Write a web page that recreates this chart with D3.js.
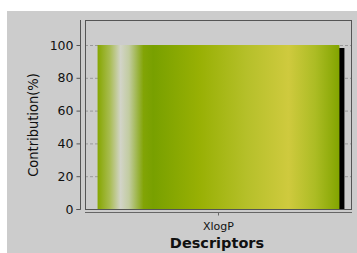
<!DOCTYPE html>
<html>
<head>
<script src="https://cdn.jsdelivr.net/npm/d3@7"></script>
<style>
body { margin: 0; background: #fff; }
text { font-family: "DejaVu Sans", Verdana, sans-serif; }
</style>
</head>
<body>
<script>
// chart data
var categories = ["XlogP"];
var values = [100];
var yTicks = [0, 20, 40, 60, 80, 100];

var width = 357, height = 253;
var svg = d3.select("body").append("svg")
	.attr("width", width)
	.attr("height", height);

// gray panel
svg.append("rect").attr("x", 7).attr("y", 11)
	.attr("width", width - 7).attr("height", height - 11)
	.attr("fill", "#cccccc");

var y = d3.scaleLinear().domain([0, 100]).range([209, 45]);
var x = d3.scaleBand().domain(categories).range([85, 352]).paddingInner(0).paddingOuter(0.052);

// gradient for bar
var defs = svg.append("defs");
var grad = defs.append("linearGradient").attr("id", "barGrad")
	.attr("x1", "0%").attr("x2", "100%").attr("y1", "0%").attr("y2", "0%");
var stops = [
	[0, "#86a600"], [0.05, "#a8bc50"], [0.095, "#d2d4c8"], [0.13, "#c2cca0"],
	[0.19, "#82a406"], [0.23, "#78a000"], [0.42, "#98b004"], [0.62, "#b6c02a"],
	[0.79, "#cfca3e"], [0.9, "#acbc24"], [1, "#82a400"]
];
grad.selectAll("stop").data(stops).enter().append("stop")
	.attr("offset", function(d){ return d[0]; })
	.attr("stop-color", function(d){ return d[1]; });

// gridlines
svg.append("g").selectAll("line").data(yTicks.filter(function(t){ return t > 0; }))
	.enter().append("line")
	.attr("x1", 85).attr("x2", 352)
	.attr("y1", function(d){ return y(d) + 0.5; })
	.attr("y2", function(d){ return y(d) + 0.5; })
	.attr("stroke", "#999").attr("stroke-width", 1)
	.attr("stroke-dasharray", "3,2");

// shadow
svg.append("g").selectAll("rect").data(values).enter().append("rect")
	.attr("x", function(d, i){ return x(categories[i]) + x.bandwidth() - 1; })
	.attr("y", function(d){ return y(d) + 3; })
	.attr("width", 6)
	.attr("height", function(d){ return y(0) - y(d) - 3; })
	.attr("fill", "#000");

// bars
svg.append("g").selectAll("rect").data(values).enter().append("rect")
	.attr("x", function(d, i){ return x(categories[i]); })
	.attr("y", function(d){ return y(d); })
	.attr("width", x.bandwidth())
	.attr("height", function(d){ return y(0) - y(d); })
	.attr("fill", "url(#barGrad)");

// plot frame
svg.append("rect").attr("x", 85.5).attr("y", 20.5)
	.attr("width", 266).attr("height", 189)
	.attr("fill", "none").attr("stroke", "#555").attr("stroke-width", 1);

// y axis
var yAxis = d3.axisLeft(y).tickValues(yTicks).tickSize(4).tickPadding(3);
var gy = svg.append("g").attr("transform", "translate(80.5,0)").call(yAxis);
gy.select(".domain").attr("d", "M0,20V209.5H-4").attr("stroke", "#555");
gy.selectAll(".tick line").attr("stroke", "#555");
gy.selectAll(".tick text").attr("font-size", 12.5).attr("fill", "#111")
	.style("font-family", "'DejaVu Sans', sans-serif");

// x axis
var xAxis = d3.axisBottom(x).tickSize(3).tickPadding(7);
var gx = svg.append("g").attr("transform", "translate(0,212.5)").call(xAxis);
gx.select(".domain").attr("d", "M85,0H352").attr("stroke", "#666");
gx.selectAll(".tick line").attr("stroke", "#666");
gx.selectAll(".tick text").attr("font-size", 11).attr("fill", "#111")
	.style("font-family", "'DejaVu Sans', sans-serif");

// axis titles
svg.append("text").attr("x", 217).attr("y", 248)
	.attr("text-anchor", "middle").attr("font-size", 14.5).attr("font-weight", "bold")
	.attr("fill", "#111").text("Descriptors");

svg.append("text").attr("transform", "translate(38,125) rotate(-90)")
	.attr("text-anchor", "middle").attr("font-size", 14.5)
	.style("font-family", "'Liberation Sans Narrow', 'DejaVu Sans Condensed', sans-serif")
	.attr("fill", "#111").text("Contribution(%)");
</script>
</body>
</html>
